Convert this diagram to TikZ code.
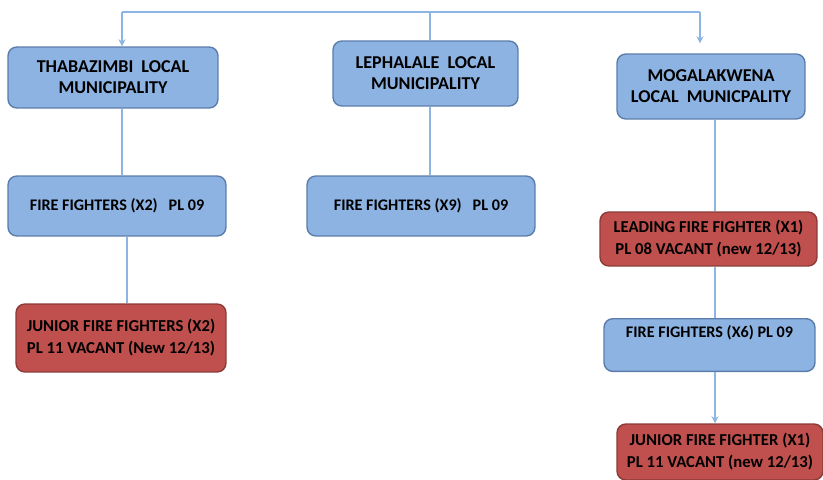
\documentclass[tikz,border=0pt]{standalone}
\usepackage{fontspec}
\setmainfont{Carlito}
\usetikzlibrary{arrows.meta}

\definecolor{boxblue}{HTML}{8DB3E2}
\definecolor{edgeblue}{HTML}{5B7CAA}
\definecolor{boxred}{HTML}{C0504D}
\definecolor{edgered}{HTML}{8A3A37}
\definecolor{linkblue}{HTML}{8EB4E3}

\tikzset{
  unit/.style={draw=edgeblue, fill=boxblue, line width=0.8pt, rounded corners=5pt,
    align=center, inner sep=2pt, font=\bfseries\fontsize{10.3}{12}\selectfont},
  post/.style={unit, font=\bfseries\fontsize{9.2}{12.5}\selectfont},
  vacant/.style={post, draw=edgered, fill=boxred, font=\bfseries\fontsize{9.5}{12.5}\selectfont},
  link/.style={draw=linkblue, line width=1.7pt},
  tip/.style={link, -{Stealth[length=4pt,width=4pt]}}
}

\begin{document}
\begin{tikzpicture}[x=0.02cm, y=-0.02cm]
\useasboundingbox (0,0) rectangle (823,480);
% Column points on the top bar
\coordinate (c1) at (122,12);
\coordinate (c2) at (430,12);
\coordinate (c3) at (700,12);
\coordinate (c4) at (715,12);
% Municipalities
\node[unit, minimum width=4.2cm, minimum height=1.22cm] (thab) at (113,77.5) {THABAZIMBI\ \ LOCAL\\MUNICIPALITY};
\node[unit, minimum width=3.7cm, minimum height=1.3cm] (leph) at (425.5,73.5) {LEPHALALE\ \ LOCAL\\MUNICIPALITY};
\node[unit, minimum width=3.76cm, minimum height=1.3cm] (moga) at (711,86.5) {MOGALAKWENA\\LOCAL\ \ MUNICPALITY};
% Posts
\node[post, minimum width=4.36cm, minimum height=1.2cm] (ffa) at (117,206) {FIRE FIGHTERS (X2)\ \ \ PL 09};
\node[vacant, minimum width=4.2cm, minimum height=1.36cm] (jfa) at (121,338) {JUNIOR FIRE FIGHTERS (X2)\\PL 11 VACANT (New 12/13)};
\node[post, minimum width=4.56cm, minimum height=1.2cm] (ffb) at (421,206) {FIRE FIGHTERS (X9)\ \ \ PL 09};
\node[vacant, minimum width=4.34cm, minimum height=1.08cm] (lead) at (708.5,239) {LEADING FIRE FIGHTER (X1)\\PL 08 VACANT (new 12/13)};
\node[post, minimum width=4.22cm, text height=8.5pt, text depth=17.5pt, anchor=north] (ffc) at (709.5,318) {FIRE FIGHTERS (X6) PL 09};
\node[vacant, minimum width=4.12cm, minimum height=1.12cm] (jfc) at (720,452) {JUNIOR FIRE FIGHTER (X1)\\PL 11 VACANT (new 12/13)};
% Connectors
\draw[link] (c1) -- (c3);
\draw[tip] (c1) -- (c1 |- thab.north);
\draw[link] (c2) -- (c2 |- leph.north);
\draw[tip] (c3) -- ([yshift=0.2cm]c3 |- moga.north);
\draw[link] (thab.south -| c1) -- (ffa.north -| c1);
\draw[link] ([xshift=0.1cm]ffa.south -| c1) -- ([xshift=0.1cm]jfa.north -| c1);
\draw[link] (leph.south -| c2) -- (ffb.north -| c2);
\draw[link] (moga.south -| c4) -- (lead.north -| c4);
\draw[link] (lead.south -| c4) -- (ffc.north -| c4);
\draw[tip] (ffc.south -| c4) -- (jfc.north -| c4);
\end{tikzpicture}
\end{document}
